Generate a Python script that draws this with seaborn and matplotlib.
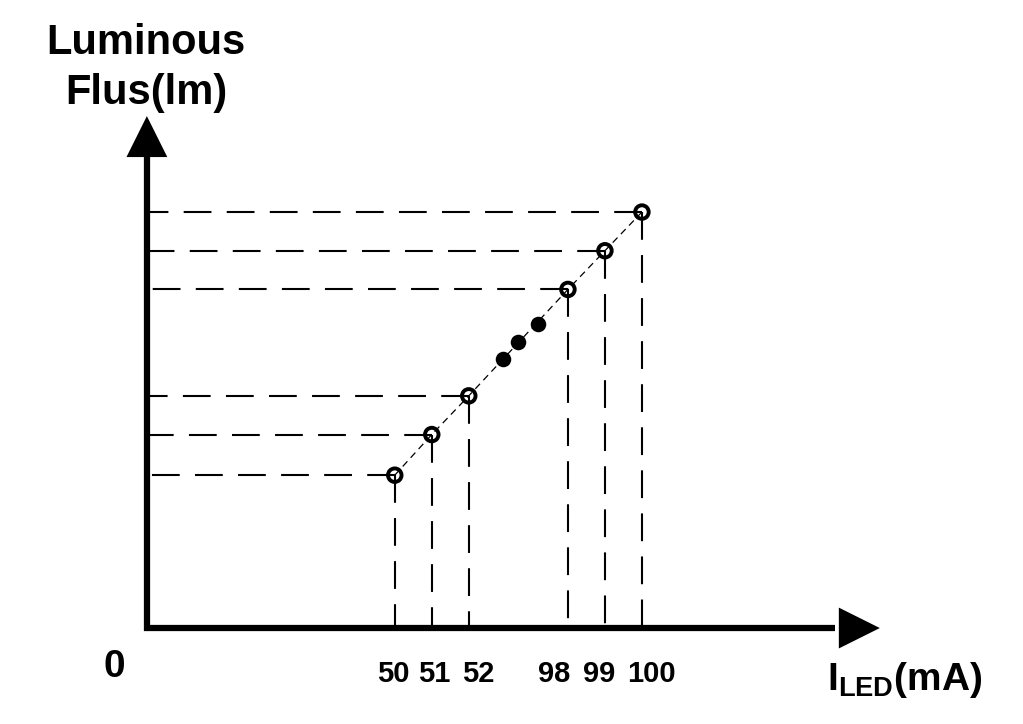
import numpy as np
import matplotlib
matplotlib.use("Agg")
import matplotlib.pyplot as plt
import seaborn as sns
import pandas as pd

# ---- data (schematic) ----
current_ma = [50, 51, 52, 98, 99, 100]
flux_lm = [3.95, 5.0, 6.0, 8.75, 9.75, 10.75]
tick_labels = ["50", "51", "52", "98", "99", "100"]
gap_current = [68, 75, 84]
gap_flux = [6.95, 7.4, 7.85]

# horizontal nudges (points) of the tick labels, as laid out in the drawing
label_nudge_pt = [-1, 2, 7, -10, -4, 7]

# ---- broken x scale: 52..98 mA compressed into GAP units ----
GAP = 2.68
SHIFT = 98 - (52 + GAP)

def fwd(v):
    v = np.asarray(v, float)
    return np.where(v <= 52, v, np.where(v >= 98, v - SHIFT, 52 + (v - 52) * GAP / 46))

def inv(p):
    p = np.asarray(p, float)
    return np.where(p <= 52, p, np.where(p >= 52 + GAP, p + SHIFT, 52 + (p - 52) * 46 / GAP))

sns.set_theme(style="white")
plt.rcParams["font.family"] = ["Liberation Sans", "DejaVu Sans"]
plt.rcParams["font.weight"] = "bold"
plt.rcParams["text.color"] = "black"
plt.rcParams["mathtext.fontset"] = "custom"
plt.rcParams["mathtext.rm"] = "Liberation Sans:bold"
plt.rcParams["mathtext.bf"] = "Liberation Sans:bold"
plt.rcParams["lines.scale_dashes"] = False

fig = plt.figure(figsize=(10.23, 7.24), dpi=100)
ax = fig.add_axes([0, 0, 1, 1])
ax.set_xscale("function", functions=(fwd, inv))

x0 = 43.30          # origin (mA, in schematic scale)
x_tip = float(inv(63.11))
y_tip = 13.23
ax.set_xlim(float(inv(39.33)), float(inv(66.98)))
ax.set_ylim(-2.48, 16.23)
ax.set_axis_off()

# guide dashed lines
for xv, yv in zip(current_ma, flux_lm):
    ax.plot([xv, x0], [yv, yv], color="black", lw=1.5, dashes=(20, 11), zorder=2)
    ax.plot([xv, xv], [yv, 0], color="black", lw=1.5, dashes=(20, 11), zorder=2)

df = pd.DataFrame({"I": current_ma, "F": flux_lm})
# connecting thin dashed line
ax.plot(df["I"], df["F"], color="black", lw=0.9, dashes=(5, 3.5), zorder=3)
# open circles
sns.scatterplot(data=df, x="I", y="F", ax=ax, s=95, facecolor="none",
                edgecolor="black", linewidth=2.8, zorder=5, legend=False)
# filled ellipsis dots
sns.scatterplot(x=gap_current, y=gap_flux, ax=ax, s=125, color="black",
                edgecolor="black", linewidth=0, zorder=5, legend=False)

# axes lines
ax.plot([x0, x0, x_tip - 1.2], [y_tip - 0.5, 0, 0], color="black", lw=4.5,
        solid_joinstyle="miter", solid_capstyle="butt", zorder=6)
ap = dict(arrowstyle="-|>,head_length=2.95,head_width=1.47", mutation_scale=10,
          lw=0, color="black", shrinkA=0, shrinkB=0)
ax.annotate("", xy=(x_tip, 0), xytext=(x_tip - 3, 0), arrowprops=ap, zorder=7)
ax.annotate("", xy=(x0, y_tip), xytext=(x0, y_tip - 2), arrowprops=ap, zorder=7)

# tick labels
tr = ax.get_xaxis_transform()
for xv, lab, dx in zip(current_ma, tick_labels, label_nudge_pt):
    ax.annotate(lab, xy=(xv, 0.058), xycoords=tr, xytext=(dx, 0),
                textcoords="offset points", ha="center", va="baseline",
                fontsize=21, fontweight="bold")

fig.text(0.1114, 0.065, "0", ha="center", va="baseline", fontsize=28, fontweight="bold")
fig.text(0.1427, 0.9254, "Luminous", ha="center", va="baseline", fontsize=30, fontweight="bold")
fig.text(0.1427, 0.8564, "Flus(lm)", ha="center", va="baseline", fontsize=30, fontweight="bold")
fig.text(0.8847, 0.047, r"$\mathbf{I}_{\mathbf{LED}}$(mA)", ha="center", va="baseline",
         fontsize=28, fontweight="bold")

fig.savefig("out.png", dpi=100, facecolor="white")
